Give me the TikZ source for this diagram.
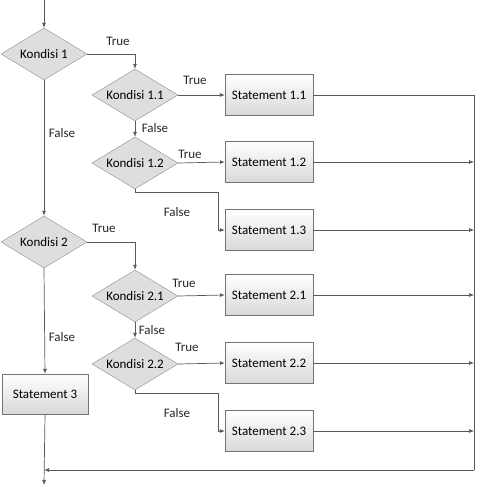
\documentclass[tikz,border=0pt]{standalone}
\usepackage{fontspec}
\setmainfont{Carlito}
\usetikzlibrary{arrows.meta,shapes.geometric,positioning}

\begin{document}
\begin{tikzpicture}[x=1pt,y=-1pt,font=\fontsize{13}{15}\selectfont]
\tikzstyle{kondisi}=[diamond,draw=black!45,fill=black!13,aspect=1.65,minimum width=86pt,minimum height=52pt,inner sep=0pt]
\tikzstyle{stmt}=[rectangle,draw=black!55,top color=white,bottom color=black!15,minimum width=88pt,minimum height=41pt]
\tikzstyle{alur}=[draw=black!65,line width=0.7pt]
\tikzstyle{panah}=[alur,-{Latex[length=5pt,width=4pt]}]
\tikzstyle{ket}=[inner sep=0pt,text=black!85]
\useasboundingbox (0,0) rectangle (476,486);
% kondisi
\node[kondisi] (k1) at (44,54) {Kondisi 1};
\node[kondisi] (k11) at (135,95) {Kondisi 1.1};
\node[kondisi] (k12) at (135,163) {Kondisi 1.2};
\node[kondisi] (k2) at (44,242) {Kondisi 2};
\node[kondisi] (k21) at (135,296) {Kondisi 2.1};
\node[kondisi] (k22) at (135,364) {Kondisi 2.2};
% statement
\node[stmt] (s11) at (269,95) {Statement 1.1};
\node[stmt] (s12) at (269,162) {Statement 1.2};
\node[stmt] (s13) at (269,230) {Statement 1.3};
\node[stmt] (s21) at (269,295) {Statement 2.1};
\node[stmt] (s22) at (269,363) {Statement 2.2};
\node[stmt] (s23) at (269,431) {Statement 2.3};
\node[stmt,minimum width=86pt,minimum height=40pt] (s3) at (45,394) {Statement 3};
% titik bantu
\coordinate (mulai) at (44,0);
\coordinate (rtop) at (474,95);
\coordinate (rbot) at (474,470);
\coordinate (join) at (44,470);
\coordinate (akhir) at (44,485);
% label
\node[ket] (t1) at (118,41) {True};
\node[ket] (t11) at (195,80) {True};
\node[ket] (f11) at (155,128) {False};
\node[ket] (t12) at (190,154) {True};
\node[ket] (f12) at (177,212) {False};
\node[ket] (f1) at (62,133) {False};
\node[ket] (t2) at (104,228) {True};
\node[ket] (t21) at (184,283) {True};
\node[ket] (f21) at (152,330) {False};
\node[ket] (t22) at (187,347) {True};
\node[ket] (f22) at (177,413) {False};
\node[ket] (f2) at (62,337) {False};
% alur utama
\draw[panah] (mulai) -- (k1.north);
\draw[panah] (k1.south) -- (k2.north);
\draw[panah] (k2.south) -- (s3.north);
\draw[panah] (s3.south) -- (akhir);
% cabang 1
\draw[panah] (k1.east) -| (k11.north);
\draw[panah] (k11.east) -- (s11.west);
\draw[panah] (k11.south) -- (k12.north);
\draw[panah] (k12.east) -- (s12.west);
\draw[panah] (k12.south) -- ++(0,3) -| ([xshift=-6pt]s13.west) -- (s13.west);
% cabang 2
\draw[panah] (k2.east) -| (k21.north);
\draw[panah] (k21.east) -- (s21.west);
\draw[panah] (k21.south) -- (k22.north);
\draw[panah] (k22.east) -- (s22.west);
\draw[panah] (k22.south) -- ++(0,3) -| ([xshift=-6pt]s23.west) -- (s23.west);
% ke kanan
\draw[alur] (s11.east) -- (rtop) -- (rbot);
\draw[panah] (s12.east) -- (s12.east -| rtop);
\draw[panah] (s13.east) -- (s13.east -| rtop);
\draw[panah] (s21.east) -- (s21.east -| rtop);
\draw[panah] (s22.east) -- (s22.east -| rtop);
\draw[panah] (s23.east) -- (s23.east -| rtop);
\draw[panah] (rbot) -- (join);
\end{tikzpicture}
\end{document}
